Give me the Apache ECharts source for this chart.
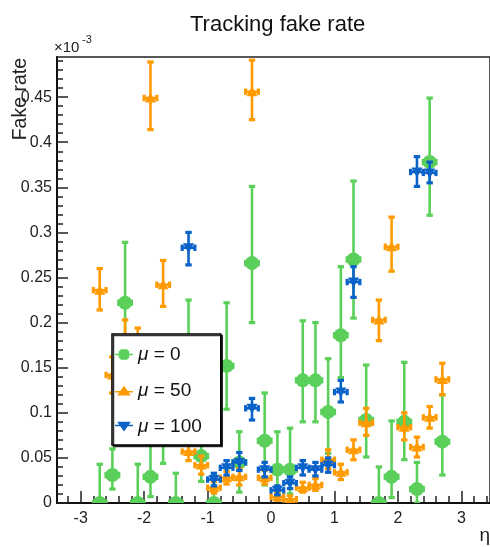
<!DOCTYPE html>
<html>
<head>
<meta charset="utf-8">
<script src="https://cdn.jsdelivr.net/npm/echarts@6/dist/echarts.min.js"></script>
<style>
html,body{margin:0;padding:0;background:#fff;}
#chart{width:490px;height:547px;}
</style>
</head>
<body>
<div id="chart"></div>
<script>
// ---------- data (fake rate in units of 1e-3) ----------
const etaBins = [-2.7,-2.5,-2.3,-2.1,-1.9,-1.7,-1.5,-1.3,-1.1,-0.9,-0.7,-0.5,-0.3,-0.1,
                 0.1,0.3,0.5,0.7,0.9,1.1,1.3,1.5,1.7,1.9,2.1,2.3,2.5,2.7];
const binHalfWidth = 0.1;

// mu = 0
const mu0Val  = [0,0.031,0.222,0,0.029,0.09,0,0.14,0.052,0,0.152,0.045,0.266,0.069,
                 0.037,0.037,0.136,0.136,0.101,0.186,0.270,0.092,0,0.029,0.090,0.0155,0.378,0.068];
const mu0Low  = [0,0.0155,0.155,0,0.007,0.044,0,0.075,0.024,0,0.104,0.012,0.200,0.020,
                 0.010,0.010,0.090,0.090,0.055,0.139,0.205,0.051,0,0.006,0.048,0,0.319,0.031];
const mu0High = [0.043,0.060,0.289,0.043,0.075,0.140,0.033,0.225,0.080,0.030,0.222,0.079,0.351,0.122,
                 0.079,0.083,0.202,0.200,0.160,0.262,0.357,0.153,0.040,0.091,0.156,0.045,0.449,0.120];

// mu = 50
const mu50Val  = [0.236,0.142,0.178,0.170,0.449,0.242,0.100,0.057,0.042,0.017,0.028,0.029,0.456,0.028,
                  0.007,0.004,0.017,0.020,0.048,0.034,0.059,0.089,0.203,0.284,0.084,0.062,0.095,0.137];
const mu50Low  = [0.214,0.122,0.153,0.146,0.414,0.218,0.082,0.047,0.032,0.011,0.021,0.020,0.425,0.021,
                  0.003,0.001,0.012,0.014,0.038,0.026,0.048,0.075,0.180,0.257,0.070,0.051,0.083,0.120];
const mu50High = [0.260,0.162,0.203,0.194,0.489,0.269,0.118,0.067,0.052,0.024,0.035,0.038,0.491,0.036,
                  0.012,0.008,0.023,0.027,0.059,0.043,0.070,0.105,0.225,0.317,0.100,0.073,0.107,0.155];

// mu = 100
const mu100Eta  = [-1.3,-0.9,-0.7,-0.5,-0.3,-0.1,0.1,0.3,0.5,0.7,0.9,1.1,1.3,2.3,2.5];
const mu100Val  = [0.283,0.026,0.039,0.045,0.105,0.037,0.014,0.022,0.039,0.037,0.042,0.123,0.245,0.367,0.366];
const mu100Low  = [0.264,0.019,0.031,0.036,0.092,0.029,0.009,0.016,0.031,0.030,0.034,0.112,0.228,0.351,0.355];
const mu100High = [0.300,0.033,0.047,0.056,0.116,0.045,0.019,0.029,0.047,0.045,0.050,0.136,0.262,0.384,0.378];

const xTicks = [-3,-2,-1,0,1,2,3];
const yTicks = [0,0.05,0.1,0.15,0.2,0.25,0.3,0.35,0.4,0.45];
const seriesNames = ['μ = 0','μ = 50','μ = 100'];

// ---------- style ----------
const SANS = '"Liberation Sans",Arial,Helvetica,sans-serif';
const GREEN = '#5ad05a', ORANGE = '#ff9a00', BLUE = '#0b62c8';
const X_MIN = -3.373, X_MAX = 3.451, Y_MIN = 0, Y_MAX = 0.4945;

const xMinor = [];
for (let v = -3.2; v <= 3.41; v += 0.2) { const r = Math.round(v*10)/10; if (Math.abs(r - Math.round(r)) > 1e-6) xMinor.push(r); }
const yMinor = [];
for (let i = 1; i <= 49; i++) { if (i % 5 !== 0) yMinor.push(i/100); }

function build(eta, val, lo, hi) {
  return eta.map((e,i) => [e, val[i], lo[i], hi[i]]);
}

function renderer(shape, color) {
  return function (params, api) {
    const x = api.value(0), y = api.value(1), lo = api.value(2), hi = api.value(3);
    const p = api.coord([x, y]);
    const pLo = api.coord([x, lo]);
    const pHi = api.coord([x, hi]);
    const pL = api.coord([x - binHalfWidth, y]);
    const pR = api.coord([x + binHalfWidth, y]);
    const lw = 2.6;
    const st = {stroke: color, lineWidth: lw};
    const ch = [
      {type:'line', shape:{x1:p[0], y1:pLo[1], x2:p[0], y2:pHi[1]}, style: st},
      {type:'rect', shape:{x:p[0]-3.2, y:pHi[1]-1.6, width:6.4, height:3.2}, style:{fill:color}},
      {type:'line', shape:{x1:pL[0], y1:p[1], x2:pR[0], y2:p[1]}, style: st},
      {type:'rect', shape:{x:pL[0]-1.6, y:p[1]-3.2, width:3.2, height:6.4}, style:{fill:color}},
      {type:'rect', shape:{x:pR[0]-1.6, y:p[1]-3.2, width:3.2, height:6.4}, style:{fill:color}}
    ];
    if (lo < y - 1e-9) ch.push({type:'rect', shape:{x:p[0]-3.2, y:pLo[1]-1.6, width:6.4, height:3.2}, style:{fill:color}});
    if (shape === 'circle') {
      ch.push({type:'circle', shape:{cx:p[0], cy:p[1], r:7}, style:{fill:color}});
    } else if (shape === 'up') {
      ch.push({type:'polygon', shape:{points:[[p[0], p[1]-5.5],[p[0]+5.5, p[1]+4.5],[p[0]-5.5, p[1]+4.5]]}, style:{fill:color}});
    } else {
      ch.push({type:'polygon', shape:{points:[[p[0], p[1]+5.5],[p[0]+5.5, p[1]-4.5],[p[0]-5.5, p[1]-4.5]]}, style:{fill:color}});
    }
    return {type:'group', children: ch};
  };
}

const iconCircle = 'path://M0,6L5,6L5,3L8,0L16,0L19,3L19,6L24,6L24,8L19,8L19,11L16,14L8,14L5,11L5,8L0,8Z';
const iconUp = 'path://M0,7L7,7L12,0L17,7L24,7L24,9L18.4,9L21,13L3,13L5.6,9L0,9Z';
const iconDown = 'path://M0,5L5.6,5L3,1L21,1L18.4,5L24,5L24,7L17,7L12,14L7,7L0,7Z';

const chart = echarts.init(document.getElementById('chart'), null, {renderer:'canvas'});
chart.setOption({
  animation: false,
  backgroundColor: '#fff',
  title: {
    text: 'Tracking fake rate', left: 185, top: 9,
    textStyle: {fontFamily: SANS, fontSize: 22, fontWeight: 'normal', color: '#111'}
  },
  grid: {left: 57, top: 57, right: -6, bottom: 44, show: true, borderColor: '#222', borderWidth: 1.5, backgroundColor: 'transparent'},
  xAxis: [
    {type:'value', min:X_MIN, max:X_MAX, position:'bottom',
     axisLine:{show:true, onZero:false, lineStyle:{color:'#111', width:2}},
     axisTick:{show:true, inside:true, length:12, customValues: xTicks, lineStyle:{color:'#222', width:1.5}},
     axisLabel:{show:true, customValues: xTicks, margin:8, fontFamily:SANS, fontSize:16, color:'#222'},
     splitLine:{show:false}},
    {type:'value', min:X_MIN, max:X_MAX, position:'bottom',
     axisLine:{show:false, onZero:false},
     axisTick:{show:true, inside:true, length:7, customValues: xMinor, lineStyle:{color:'#222', width:1.5}},
     axisLabel:{show:false}, splitLine:{show:false}}
  ],
  yAxis: [
    {type:'value', min:Y_MIN, max:Y_MAX, position:'left',
     axisLine:{show:true, onZero:false, lineStyle:{color:'#111', width:2}},
     axisTick:{show:true, inside:true, length:11, customValues: yTicks, lineStyle:{color:'#222', width:1.5}},
     axisLabel:{show:true, customValues: yTicks, margin:5, fontFamily:SANS, fontSize:16, color:'#222',
                formatter: v => String(+v.toFixed(2))},
     splitLine:{show:false}},
    {type:'value', min:Y_MIN, max:Y_MAX, position:'left',
     axisLine:{show:false, onZero:false},
     axisTick:{show:true, inside:true, length:6, customValues: yMinor, lineStyle:{color:'#222', width:1.5}},
     axisLabel:{show:false}, splitLine:{show:false}}
  ],
  legend: {
    orient:'vertical', left:112, top:334, itemGap:17, itemWidth:18, itemHeight:13,
    padding:[11, 19, 9, 3], borderColor:'#000', borderWidth:1.5, backgroundColor:'#fff',
    shadowColor:'rgba(0,0,0,0.8)', shadowOffsetX:1.5, shadowOffsetY:1.5, shadowBlur:0,
    textStyle:{fontFamily:SANS, fontSize:19, color:'#111',
               rich:{i:{fontFamily:SANS, fontSize:19, fontStyle:'italic', color:'#111'}}},
    formatter: n => '{i|μ}' + n.slice(1),
    data:[
      {name: seriesNames[0], icon: iconCircle, itemStyle:{color:GREEN}},
      {name: seriesNames[1], icon: iconUp, itemStyle:{color:ORANGE}},
      {name: seriesNames[2], icon: iconDown, itemStyle:{color:BLUE}}
    ],
    z: 10
  },
  graphic: [
    {type:'text', left: 54, top: 40, style:{text:'×10', fontFamily:SANS, fontSize:15, fill:'#222'}},
    {type:'text', left: 82, top: 34, style:{text:'-3', fontFamily:SANS, fontSize:11, fill:'#222'}},
    {type:'text', x: 21, y: 58, rotation: Math.PI/2,
     style:{text:'Fake rate', fontFamily:SANS, fontSize:19.5, fill:'#222', align:'right', verticalAlign:'middle'}},
    {type:'text', x: 490, y: 536,
     style:{text:'η', fontFamily:SANS, fontSize:19, fill:'#222', align:'right', verticalAlign:'middle'}}
  ],
  series: [
    {name: seriesNames[0], type:'custom', xAxisIndex:0, yAxisIndex:0, itemStyle:{color:GREEN},
     renderItem: renderer('circle', GREEN), data: build(etaBins, mu0Val, mu0Low, mu0High), clip:true, z:2},
    {name: seriesNames[1], type:'custom', xAxisIndex:0, yAxisIndex:0, itemStyle:{color:ORANGE},
     renderItem: renderer('up', ORANGE), data: build(etaBins, mu50Val, mu50Low, mu50High), clip:true, z:3},
    {name: seriesNames[2], type:'custom', xAxisIndex:0, yAxisIndex:0, itemStyle:{color:BLUE},
     renderItem: renderer('down', BLUE), data: build(mu100Eta, mu100Val, mu100Low, mu100High), clip:true, z:4}
  ]
});
</script>
</body>
</html>
